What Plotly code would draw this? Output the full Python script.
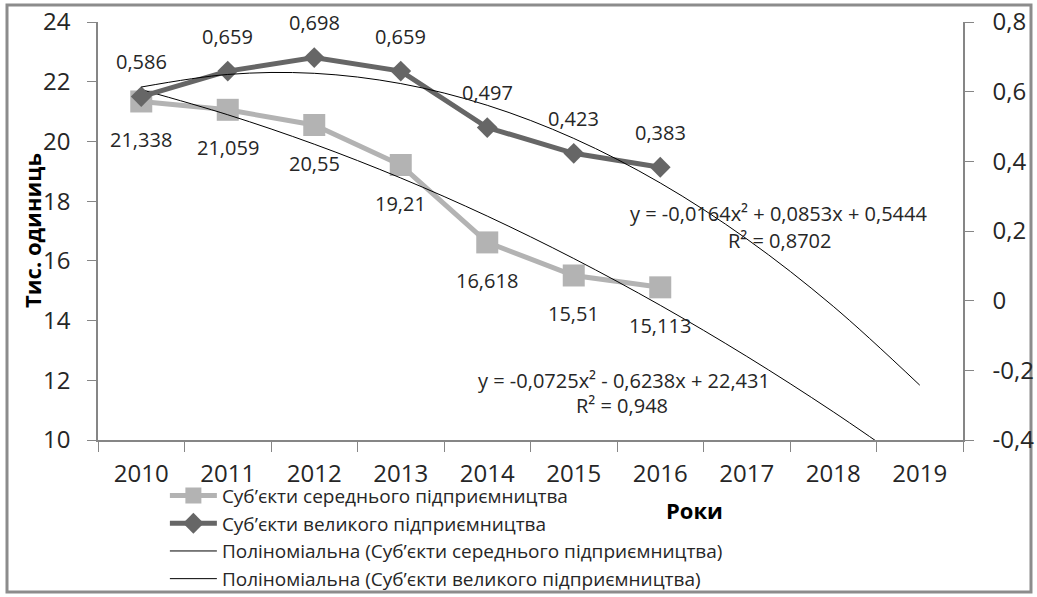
import numpy as np
import plotly.graph_objects as go

years = ["2010", "2011", "2012", "2013", "2014", "2015", "2016", "2017", "2018", "2019"]
data_years = years[:7]
medium = [21.338, 21.059, 20.55, 19.21, 16.618, 15.51, 15.113]
large = [0.586, 0.659, 0.698, 0.659, 0.497, 0.423, 0.383]
medium_name = "Суб’єкти середнього підприємництва"
large_name = "Суб’єкти великого підприємництва"
trend_medium_name = "Поліноміальна (Суб’єкти середнього підприємництва)"
trend_large_name = "Поліноміальна (Суб’єкти великого підприємництва)"
# trendline coefficients as displayed (a, b, c) and R²
coef_medium = [-0.0725, -0.6238, 22.431]
coef_large = [-0.0164, 0.0853, 0.5444]
r2_medium = 0.948
r2_large = 0.8702

FONT = "Open Sans"
TXT = "#262626"
AX = "#868686"
C_MED = "#b3b3b3"
C_LRG = "#666666"


def fmt(v):
    return f"{v:g}".replace(".", ",")


def eq_text(c):
    a, b, k = c
    s = f"y = {fmt(a)}x²"
    s += (" - " if b < 0 else " + ") + fmt(abs(b)) + "x"
    s += (" - " if k < 0 else " + ") + fmt(abs(k))
    return s


xs = np.arange(1, len(years) + 1)
trend_med = np.polyval(coef_medium, xs)
trend_lrg = np.polyval(coef_large, xs)

fig = go.Figure()
fig.add_trace(go.Scatter(
    x=data_years, y=medium, name=medium_name, mode="lines+markers",
    line=dict(color=C_MED, width=5),
    marker=dict(symbol="square", size=22, color=C_MED),
))
fig.add_trace(go.Scatter(
    x=data_years, y=large, name=large_name, mode="lines+markers", yaxis="y2",
    line=dict(color=C_LRG, width=5),
    marker=dict(symbol="diamond", size=16, color=C_LRG),
))
fig.add_trace(go.Scatter(
    x=years, y=trend_med, name=trend_medium_name, mode="lines",
    line=dict(color="black", width=1, shape="spline"),
))
fig.add_trace(go.Scatter(
    x=years, y=trend_lrg, name=trend_large_name, mode="lines", yaxis="y2",
    line=dict(color="black", width=1, shape="spline"),
))

ann = []
for i, v in enumerate(medium):
    ann.append(dict(x=i, y=v, xref="x", yref="y", text=fmt(v), showarrow=False,
                    xanchor="center", yanchor="middle", yshift=-38,
                    font=dict(size=20, color=TXT, family=FONT)))
for i, v in enumerate(large):
    ann.append(dict(x=i, y=v, xref="x", yref="y2", text=fmt(v), showarrow=False,
                    xanchor="center", yanchor="middle", yshift=35,
                    font=dict(size=20, color=TXT, family=FONT)))

eqfont = dict(size=20, color=TXT, family=FONT)
ann += [
    dict(x=0.787, y=0.543, xref="paper", yref="paper", text=eq_text(coef_large),
         showarrow=False, xanchor="center", yanchor="middle", font=eqfont),
    dict(x=0.788, y=0.478, xref="paper", yref="paper", text="R² = " + fmt(r2_large),
         showarrow=False, xanchor="center", yanchor="middle", font=eqfont),
    dict(x=0.608, y=0.1435, xref="paper", yref="paper", text=eq_text(coef_medium),
         showarrow=False, xanchor="center", yanchor="middle", font=eqfont),
    dict(x=0.606, y=0.0837, xref="paper", yref="paper", text="R² = " + fmt(r2_medium),
         showarrow=False, xanchor="center", yanchor="middle", font=eqfont),
    dict(x=0.69, y=-0.1675, xref="paper", yref="paper", text="<b>Роки</b>",
         showarrow=False, xanchor="center", yanchor="middle",
         font=dict(size=22, color="black", family=FONT)),
    dict(x=-0.0763, y=0.5, xref="paper", yref="paper", text="<b>Тис. одиниць</b>",
         showarrow=False, xanchor="center", yanchor="middle", textangle=-90,
         font=dict(size=22, color="black", family=FONT)),
]

fig.update_layout(
    width=1037, height=597,
    margin=dict(l=98, r=74, t=22, b=157, autoexpand=False),
    paper_bgcolor="white", plot_bgcolor="white",
    separators=", ",
    font=dict(family=FONT, color=TXT),
    showlegend=True,
    legend=dict(x=0.159, y=0.2015, xref="container", yref="container",
                xanchor="left", yanchor="top",
                font=dict(size=19, color=TXT, family=FONT),
                bgcolor="rgba(0,0,0,0)", itemwidth=47, tracegroupgap=0),
    xaxis=dict(type="category", categoryorder="array", categoryarray=years,
               range=[-0.5, 9.5], tickson="boundaries", ticks="outside",
               ticklen=10, tickcolor=AX, showline=True, linecolor=AX, linewidth=1.5,
               showgrid=False, zeroline=False, ticklabelstandoff=11, automargin=False,
               tickfont=dict(size=24, color=TXT, family=FONT)),
    yaxis=dict(range=[10, 24], dtick=2, ticks="outside", ticklen=9, tickcolor=AX,
               showline=True, linecolor=AX, linewidth=1.5, showgrid=False,
               zeroline=False, ticklabelstandoff=12, automargin=False,
               tickfont=dict(size=24, color=TXT, family=FONT)),
    yaxis2=dict(overlaying="y", side="right", range=[-0.4, 0.8],
                tickvals=[-0.4, -0.2, 0, 0.2, 0.4, 0.6, 0.8],
                ticktext=["-0,4", "-0,2", "0", "0,2", "0,4", "0,6", "0,8"],
                ticks="outside", ticklen=9, tickcolor=AX, showline=True,
                linecolor=AX, linewidth=1.5, showgrid=False, zeroline=False,
                ticklabelstandoff=14, automargin=False,
                tickfont=dict(size=24, color=TXT, family=FONT)),
    annotations=ann,
    shapes=[dict(type="rect", xref="paper", yref="paper", x0=-0.1052, x1=1.0786,
                 y0=-0.3636, y1=1.0407, line=dict(color="#8c8c8c", width=3),
                 layer="below")],
)

fig.write_html("out.html", config={"displayModeBar": False},
               post_script="document.body.style.margin='0';document.body.style.overflow='hidden';")
